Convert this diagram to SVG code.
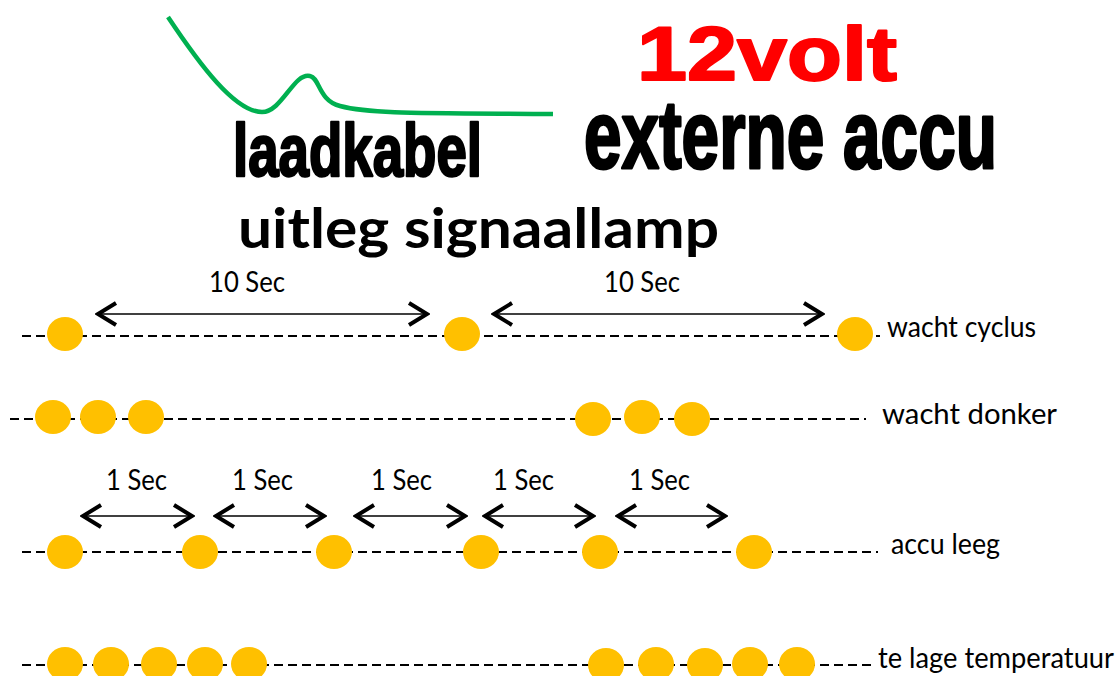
<svg xmlns="http://www.w3.org/2000/svg" width="1119" height="676" viewBox="0 0 1119 676">
<defs>
<style>
.lbl{font-family:Lato,"Liberation Sans",sans-serif;font-size:28px;fill:#000}
.imp{font-family:"Liberation Sans",Arial,sans-serif;font-weight:bold;stroke-linejoin:round}
.dash{stroke:#000;stroke-width:2;stroke-dasharray:9 5;fill:none}
.lamp{fill:#FFC000}
.arr{stroke:#000;stroke-width:1.6;fill:none;marker-start:url(#chev);marker-end:url(#chev)}
</style>
<marker id="chev" viewBox="0 0 24 26" markerWidth="24" markerHeight="26" refX="22" refY="13" markerUnits="userSpaceOnUse" orient="auto-start-reverse">
<path d="M3,2 L21,13 L3,24" stroke="#000" stroke-width="4" fill="none"/>
</marker>
</defs>
<rect width="1119" height="676" fill="#fff"/>
<g id="header">
<text x="148" y="-5" class="lbl">g</text>
<path d="M168,17 C200,65 235,112 262,112 C282,112 294,72 310,76 C320,78 318,100 340,106 C370,114 420,113 553,114" stroke="#00B050" stroke-width="4.5" fill="none"/>
<text x="233" y="176" class="imp" font-size="74" stroke="#000" stroke-width="2.5" textLength="249" lengthAdjust="spacingAndGlyphs">laadkabel</text>
<text x="637" y="80" class="imp" font-size="76" fill="#FF0000" stroke="#FF0000" stroke-width="2" textLength="260" lengthAdjust="spacingAndGlyphs">12volt</text>
<text x="584" y="168" class="imp" font-size="96" stroke="#000" stroke-width="3" textLength="413" lengthAdjust="spacingAndGlyphs">externe accu</text>
<text x="238" y="248" font-family="Lato,'Liberation Sans',sans-serif" font-weight="bold" font-size="56" textLength="481" lengthAdjust="spacingAndGlyphs">uitleg signaallamp</text>
</g>
<g id="row-wacht-cyclus">
<line x1="22" y1="336" x2="880" y2="336" class="dash"/>
<ellipse cx="65" cy="334" rx="18" ry="17" class="lamp"/>
<ellipse cx="462" cy="334" rx="18" ry="17" class="lamp"/>
<ellipse cx="855" cy="334" rx="18" ry="17" class="lamp"/>
<text x="887" y="337" class="lbl" textLength="149" lengthAdjust="spacingAndGlyphs">wacht cyclus</text>
<text x="209" y="292" class="lbl" textLength="76" lengthAdjust="spacingAndGlyphs">10 Sec</text>
<text x="604" y="292" class="lbl" textLength="76" lengthAdjust="spacingAndGlyphs">10 Sec</text>
</g>
<g id="row-wacht-donker">
<line x1="10" y1="419" x2="866" y2="419" class="dash"/>
<ellipse cx="53" cy="417" rx="18" ry="17" class="lamp"/>
<ellipse cx="98" cy="417" rx="18" ry="17" class="lamp"/>
<ellipse cx="146" cy="417" rx="18" ry="17" class="lamp"/>
<ellipse cx="593" cy="419" rx="18" ry="17" class="lamp"/>
<ellipse cx="642" cy="417" rx="18" ry="17" class="lamp"/>
<ellipse cx="692" cy="419" rx="18" ry="17" class="lamp"/>
<text x="882" y="424" class="lbl" font-size="30" textLength="175" lengthAdjust="spacingAndGlyphs">wacht donker</text>
</g>
<g id="row-accu-leeg">
<line x1="22" y1="552" x2="878" y2="552" class="dash"/>
<ellipse cx="65" cy="552" rx="18" ry="17" class="lamp"/>
<ellipse cx="200" cy="552" rx="18" ry="17" class="lamp"/>
<ellipse cx="334" cy="552" rx="18" ry="17" class="lamp"/>
<ellipse cx="481" cy="552" rx="18" ry="17" class="lamp"/>
<ellipse cx="600" cy="552" rx="18" ry="17" class="lamp"/>
<ellipse cx="754" cy="552" rx="18" ry="17" class="lamp"/>
<text x="891" y="554" class="lbl" textLength="109" lengthAdjust="spacingAndGlyphs">accu leeg</text>
<text x="106" y="490" class="lbl" textLength="61" lengthAdjust="spacingAndGlyphs">1 Sec</text>
<text x="232" y="490" class="lbl" textLength="61" lengthAdjust="spacingAndGlyphs">1 Sec</text>
<text x="371" y="490" class="lbl" textLength="61" lengthAdjust="spacingAndGlyphs">1 Sec</text>
<text x="493" y="490" class="lbl" textLength="61" lengthAdjust="spacingAndGlyphs">1 Sec</text>
<text x="629" y="490" class="lbl" textLength="61" lengthAdjust="spacingAndGlyphs">1 Sec</text>
</g>
<g id="row-te-lage-temperatuur">
<line x1="22" y1="665" x2="876" y2="665" class="dash"/>
<ellipse cx="65" cy="664" rx="18" ry="17" class="lamp"/>
<ellipse cx="111" cy="664" rx="18" ry="17" class="lamp"/>
<ellipse cx="159" cy="664" rx="18" ry="17" class="lamp"/>
<ellipse cx="205" cy="664" rx="18" ry="17" class="lamp"/>
<ellipse cx="249" cy="664" rx="18" ry="17" class="lamp"/>
<ellipse cx="606" cy="665" rx="18" ry="17" class="lamp"/>
<ellipse cx="656" cy="664" rx="18" ry="17" class="lamp"/>
<ellipse cx="705" cy="665" rx="18" ry="17" class="lamp"/>
<ellipse cx="750" cy="664" rx="18" ry="17" class="lamp"/>
<ellipse cx="797" cy="664" rx="18" ry="17" class="lamp"/>
<text x="878" y="668" class="lbl" textLength="236" lengthAdjust="spacingAndGlyphs">te lage temperatuur</text>
</g>
<g id="connectors">
<line x1="97" y1="314" x2="428" y2="314" class="arr"/>
<line x1="493" y1="314" x2="823" y2="314" class="arr"/>
<line x1="82" y1="516" x2="193" y2="516" class="arr"/>
<line x1="215" y1="516" x2="325" y2="516" class="arr"/>
<line x1="355" y1="516" x2="466" y2="516" class="arr"/>
<line x1="484" y1="516" x2="594" y2="516" class="arr"/>
<line x1="617" y1="516" x2="726" y2="516" class="arr"/>
</g>
</svg>
